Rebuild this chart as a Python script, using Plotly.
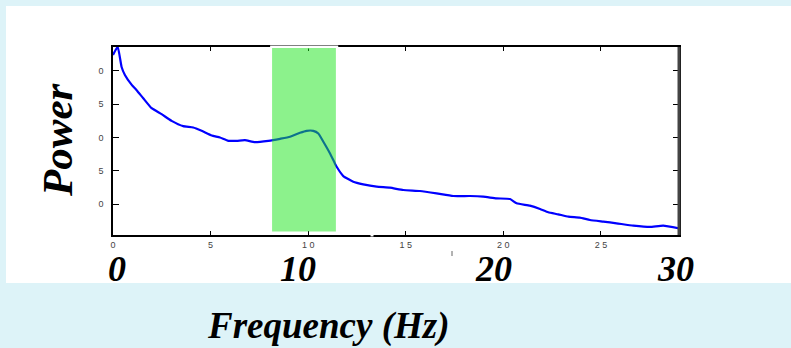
import plotly.graph_objects as go

# Power spectrum (arbitrary units) against frequency in Hz
freq = [0.0, 0.24, 0.44, 0.61, 0.96, 1.21, 1.55, 1.98, 2.49, 3.0, 3.6, 4.11, 4.54,
        5.06, 5.48, 5.91, 6.34, 6.76, 7.27, 7.96, 8.56, 9.07, 9.58, 9.92, 10.26,
        10.52, 10.77, 11.12, 11.37, 11.46, 11.8, 12.31, 12.82, 13.51, 14.19,
        14.87, 15.73, 16.58, 17.43, 18.29, 18.97, 19.65, 20.34, 20.68, 21.36,
        21.88, 22.3, 22.81, 23.33, 23.92, 24.44, 25.12, 25.8, 26.66, 27.51,
        28.19, 29.05]
power = [22.4, 23.65, 20.6, 19.4, 17.9, 17.1, 15.9, 14.4, 13.5, 12.5, 11.7, 11.5,
         11.0, 10.3, 10.0, 9.5, 9.5, 9.6, 9.3, 9.5, 9.8, 10.1, 10.7, 11.0, 11.0,
         10.6, 9.4, 7.6, 6.1, 5.6, 4.2, 3.35, 2.95, 2.6, 2.45, 2.1, 1.95, 1.6,
         1.2, 1.2, 1.1, 0.85, 0.75, 0.1, -0.25, -0.75, -1.25, -1.55, -1.9, -2.05,
         -2.4, -2.65, -2.9, -3.25, -3.45, -3.25, -3.7]

# highlighted alpha band (Hz)
band = [8.15, 11.42]

x_ticks = [0, 5, 10, 15, 20, 25]
x_ticktext = ["0", "5", "1 0", "1 5", "2 0", "2 5"]
y_ticks = [0, 5, 10, 15, 20]
y_ticktext = ["0", "5", "0", "5", "0"]

big_x_labels = ["0", "10", "20", "30"]
big_x_pos = [0.2, 9.5, 19.5, 28.8]

W, H = 791, 348
L, R, T, B = 113, 112, 47, 113
pw, ph = W - L - R, H - T - B


def px_x(px):
    return (px - L) / pw


def px_y(py):
    return (H - B - py) / ph


serif = "Liberation Serif"

fig = go.Figure()
fig.add_trace(go.Scatter(
    x=freq, y=power, mode="lines",
    line=dict(color="#0000ff", width=2.2, shape="spline", smoothing=0.4),
    hoverinfo="skip", showlegend=False,
))

shapes = [
    # white panel behind the chart
    dict(type="rect", xref="paper", yref="paper", layer="below",
         x0=px_x(6), x1=px_x(791), y0=px_y(283), y1=px_y(6),
         fillcolor="white", line=dict(width=0)),
    # white gap in the top frame above the band
    dict(type="line", xref="x", yref="paper", layer="above",
         x0=band[0] - 0.1, x1=band[1] + 0.12, y0=1, y1=1,
         line=dict(color="white", width=3)),
    # shaded band
    dict(type="rect", xref="x", yref="y", layer="above",
         x0=band[0], x1=band[1], y0=-4.15, y1=23.45,
         fillcolor="rgba(25,230,25,0.5)", line=dict(width=0)),
    # heavier right frame
    dict(type="line", xref="paper", yref="paper", layer="above",
         x0=1, x1=1, y0=0, y1=1, line=dict(color="#444444", width=3)),
    # small break in the bottom frame
    dict(type="line", xref="paper", yref="paper", layer="above",
         x0=px_x(370.5), x1=px_x(373.5), y0=0, y1=0,
         line=dict(color="white", width=3)),
    # stray mark below the frame
    dict(type="line", xref="paper", yref="paper", layer="above",
         x0=px_x(452), x1=px_x(452), y0=px_y(251), y1=px_y(256),
         line=dict(color="#666666", width=1)),
]

annotations = []
for txt, xv in zip(big_x_labels, big_x_pos):
    annotations.append(dict(
        text=txt, x=xv, y=px_y(269), xref="x", yref="paper",
        showarrow=False, xanchor="center", yanchor="middle", height=26,
        font=dict(family=serif, size=36, color="black", weight="bold", style="italic"),
    ))
annotations.append(dict(
    text="Power", x=px_x(57), y=px_y(140), xref="paper", yref="paper",
    showarrow=False, textangle=-90, xanchor="center", yanchor="middle",
    font=dict(family=serif, size=43, color="black", weight="bold", style="italic"),
))
annotations.append(dict(
    text="Frequency (Hz)", x=px_x(328), y=px_y(326), xref="paper", yref="paper",
    showarrow=False, xanchor="center", yanchor="middle",
    font=dict(family=serif, size=37, color="black", weight="bold", style="italic"),
))

fig.update_layout(
    width=W, height=H,
    margin=dict(l=L, r=R, t=T, b=B),
    paper_bgcolor="#ddf3f8",
    plot_bgcolor="white",
    shapes=shapes,
    annotations=annotations,
    xaxis=dict(
        range=[0, 29], tickvals=x_ticks, ticktext=x_ticktext,
        showgrid=False, zeroline=False, showline=True, linecolor="black",
        linewidth=1.5, mirror="ticks", ticks="inside", ticklen=4, tickcolor="black",
        tickfont=dict(family="Liberation Sans", size=9, color="#444444"),
    ),
    yaxis=dict(
        range=[-4.66, 23.6], tickvals=y_ticks, ticktext=y_ticktext,
        showgrid=False, zeroline=False, showline=True, linecolor="black",
        linewidth=1.5, mirror="ticks", ticks="inside", ticklen=6, tickcolor="black",
        tickfont=dict(family="Liberation Sans", size=9, color="#444444"),
        ticklabelstandoff=6,
    ),
)

fig.write_html("out.html")
